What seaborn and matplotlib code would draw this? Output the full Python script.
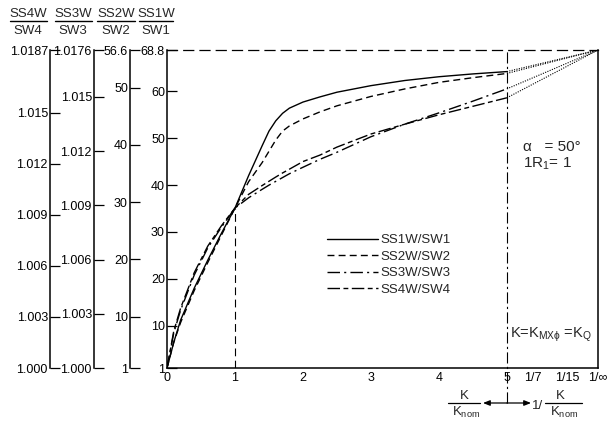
import numpy as np
import pandas as pd
import matplotlib
matplotlib.use("Agg")
import matplotlib.pyplot as plt
import seaborn as sns
from matplotlib.lines import Line2D

# ---------------- data ----------------
x_vals = [0, 0.1, 0.2, 0.4, 0.6, 0.8, 1.0, 1.2, 1.4, 1.5, 1.6, 1.7, 1.8, 2.0, 2.25,
          2.5, 3.0, 3.5, 4.0, 4.5, 5.0]
ss1 = [1, 6.5, 11.2, 18, 24, 29.7, 35.1, 42, 48.4, 51.5, 53.7, 55.3, 56.4, 57.7, 58.8,
       59.8, 61.2, 62.3, 63.1, 63.7, 64.2]
ss2 = [1, 5.52, 8.95, 14.53, 19.45, 24.21, 28.97, 33.56, 36.92, 38.89, 40.86, 42.42,
       43.32, 44.55, 45.78, 46.84, 48.48, 49.80, 50.94, 51.76, 52.50]
ss3 = [1.0, 1.00195, 1.00320, 1.00514, 1.00665, 1.00779, 1.00885, 1.00942, 1.00989,
       1.01012, 1.01033, 1.01054, 1.01075, 1.01111, 1.01155, 1.01194, 1.01280, 1.01350,
       1.01412, 1.01477, 1.01545]
ss4 = [1.0, 1.00218, 1.00352, 1.00560, 1.00717, 1.00836, 1.00941, 1.01021, 1.01073,
       1.01098, 1.01123, 1.01147, 1.01169, 1.01214, 1.01252, 1.01299, 1.01376, 1.01434,
       1.01489, 1.01539, 1.01589]
series_labels = ["SS1W/SW1", "SS2W/SW2", "SS3W/SW3", "SS4W/SW4"]

header_num = ["SS4W", "SS3W", "SS2W", "SS1W"]
header_den = ["SW4", "SW3", "SW2", "SW1"]

ss1_ticks = [1, 10, 20, 30, 40, 50, 60, 68.8]
ss1_labels = ["1", "10", "20", "30", "40", "50", "60", "68.8"]
ss2_ticks = [1, 10, 20, 30, 40, 50, 56.6]
ss2_labels = ["1", "10", "20", "30", "40", "50", "56.6"]
ss3_ticks = [1.000, 1.003, 1.006, 1.009, 1.012, 1.015, 1.0176]
ss3_labels = ["1.000", "1.003", "1.006", "1.009", "1.012", "1.015", "1.0176"]
ss4_ticks = [1.000, 1.003, 1.006, 1.009, 1.012, 1.015, 1.0187]
ss4_labels = ["1.000", "1.003", "1.006", "1.009", "1.012", "1.015", "1.0187"]

x_ticks_main = [0, 1, 2, 3, 4, 5]
x_labels_main = ["0", "1", "2", "3", "4", "5"]
right_K = [7, 15, np.inf]
right_labels = ["1/7", "1/15", "1/\u221e"]
RIGHT_SPAN = 1.34   # width of the 1/K section in x units
right_pos = [5 + (0.2 - 1.0 / k) / 0.2 * RIGHT_SPAN for k in right_K]
x_end = right_pos[-1]

# ---------------- style ----------------
sns.set_style("white")
plt.rcParams['font.family'] = ['Liberation Sans', 'DejaVu Sans']
plt.rcParams['mathtext.fontset'] = 'custom'
plt.rcParams['mathtext.rm'] = 'Liberation Sans'
plt.rcParams['mathtext.it'] = 'Liberation Sans'
plt.rcParams['mathtext.bf'] = 'Liberation Sans'

W, H = 611, 423
fig = plt.figure(figsize=(W / 100, H / 100), dpi=100)
fx = lambda p: p / W
fy = lambda p: 1 - p / H

L, R, T, B = 167, 598, 50, 368
ax = fig.add_axes([fx(L), fy(B), (R - L) / W, (B - T) / H])

FS = 9
LW = 1.0

styles = ['-', (0, (5, 3)), (0, (9, 3, 1.5, 3)), (0, (9, 2.5, 3.5, 2.5))]

# extra axes
def make_axis(offset_px, lims, ticks, labels):
    a = ax.twinx()
    a.set_ylim(*lims)
    a.yaxis.set_ticks_position('left')
    a.yaxis.set_label_position('left')
    for s in ['top', 'right', 'bottom']:
        a.spines[s].set_visible(False)
    a.spines['left'].set_position(('outward', offset_px * 0.72))
    a.spines['left'].set_linewidth(1.1)
    a.spines['left'].set_color('k')
    a.set_yticks(ticks)
    a.set_yticklabels(labels)
    a.tick_params(axis='y', direction='in', length=7, width=0.9, pad=1.5,
                  labelsize=FS, colors='k', left=True, right=False,
                  labelleft=True, labelright=False)
    return a

ax2 = make_axis(L - 130, (1, 56.6), ss2_ticks, ss2_labels)
ax3 = make_axis(L - 94, (1.0, 1.0176), ss3_ticks, ss3_labels)
ax4 = make_axis(L - 50, (1.0, 1.0187), ss4_ticks, ss4_labels)

axes_list = [ax, ax2, ax3, ax4]
data_list = [ss1, ss2, ss3, ss4]
tops = [68.8, 56.6, 1.0176, 1.0187]
handles = []
for a, d, st, top, lab in zip(axes_list, data_list, styles, tops, series_labels):
    sns.lineplot(x=x_vals, y=d, ax=a, color='k', lw=LW, linestyle=st,
                 errorbar=None, sort=False)
    handles.append(Line2D([], [], color='k', lw=LW, linestyle=st, label=lab))
    sns.lineplot(x=[x_vals[-1], x_end], y=[d[-1], top], ax=a, color='k',
                 lw=0.8, linestyle=(0, (1, 1.2)), errorbar=None, sort=False)
    a.set_xlabel('')
    a.set_ylabel('')

for a, lims in zip(axes_list, [(1, 68.8), (1, 56.6), (1.0, 1.0176), (1.0, 1.0187)]):
    a.set_ylim(*lims)
    a.set_xlim(0, x_end)

# main axis
ax.set_yticks(ss1_ticks)
ax.set_yticklabels(ss1_labels)
ax.set_xticks(x_ticks_main + right_pos)
ax.set_xticklabels(x_labels_main + right_labels)
ax.tick_params(axis='both', direction='in', length=7, width=0.9, labelsize=FS,
               colors='k', pad=3)
ax.tick_params(axis='y', pad=1.5)
for s in ['left', 'bottom', 'right']:
    ax.spines[s].set_color('k')
    ax.spines[s].set_linewidth(1.1)
ax.spines['top'].set_color('k')
ax.spines['top'].set_linewidth(0.9)
ax.spines['top'].set_linestyle((0, (8, 5)))

# guide lines
cross = ss1[x_vals.index(1.0)]
ax.vlines(1, 1, cross, colors='k', lw=0.8, linestyles=(0, (7, 4)))
ax.axvline(5, ymin=-0.11, ymax=1, color='k', lw=0.8,
           linestyle=(0, (10, 3, 2, 3)), clip_on=False)

# headers
hdr_cx = [28, 73, 116, 156]
hdr_w = [37, 37, 38, 34]
for num, den, cx, w in zip(header_num, header_den, hdr_cx, hdr_w):
    fig.text(fx(cx), fy(14), num, ha='center', va='center', fontsize=9.5)
    fig.text(fx(cx), fy(31), den, ha='center', va='center', fontsize=9.5)
    fig.add_artist(Line2D([fx(cx - w / 2), fx(cx + w / 2)], [fy(21.5), fy(21.5)],
                          color='k', lw=1.0))

# legend
fig.legend(handles=handles, loc='upper left',
           bbox_to_anchor=(fx(327), fy(234)), bbox_transform=fig.transFigure,
           frameon=False, fontsize=9.5, handlelength=3.9, handletextpad=0.15,
           labelspacing=0.32, borderpad=0, borderaxespad=0)

# annotations
fig.text(fx(523), fy(147), "\u03b1   = 50\u00b0", ha='left', va='center', fontsize=11)
fig.text(fx(523), fy(164), r"1R$_1$= 1", ha='left', va='center', fontsize=11)
fig.text(fx(510), fy(335), r"K=K$_{\mathrm{MX\phi}}$ =K$_{\mathrm{Q}}$", ha='left',
         va='center', fontsize=10.5)

# bottom axis explanation
fig.text(fx(464), fy(396), "K", ha='center', va='center', fontsize=9.5)
fig.add_artist(Line2D([fx(448), fx(480)], [fy(403), fy(403)], color='k', lw=0.9))
fig.text(fx(466), fy(412), r"K$_{\mathrm{nom}}$", ha='center', va='center', fontsize=9.5)
fig.text(fx(538), fy(406), "1/", ha='center', va='center', fontsize=9.5)
fig.text(fx(560), fy(396), "K", ha='center', va='center', fontsize=9.5)
fig.add_artist(Line2D([fx(545), fx(582)], [fy(403), fy(403)], color='k', lw=0.9))
fig.text(fx(564), fy(412), r"K$_{\mathrm{nom}}$", ha='center', va='center', fontsize=9.5)
for x0, x1 in [(507, 483), (507, 531)]:
    fig.add_artist(matplotlib.patches.FancyArrowPatch(
        (fx(x0), fy(403)), (fx(x1), fy(403)), transform=fig.transFigure,
        arrowstyle='-|>,head_length=4,head_width=1.6', color='k', lw=0.9,
        shrinkA=0, shrinkB=0))

fig.savefig("out.png", dpi=100, facecolor='white')
